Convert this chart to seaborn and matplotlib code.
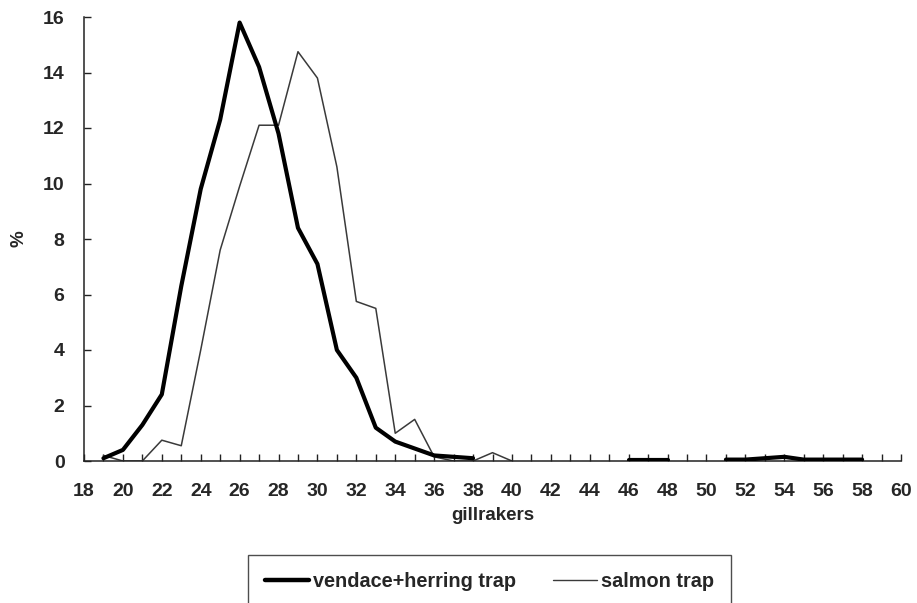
import numpy as np
import pandas as pd
import matplotlib
matplotlib.use("Agg")
import matplotlib.pyplot as plt
import seaborn as sns
from matplotlib.lines import Line2D

# ---- data ----
vendace_x = [19, 20, 21, 22, 23, 24, 25, 26, 27, 28, 29, 30, 31, 32, 33, 34, 35, 36, 37, 38,
             46, 47, 48,
             51, 52, 53, 54, 55, 56, 57, 58]
vendace_y = [0.1, 0.4, 1.3, 2.4, 6.3, 9.8, 12.3, 15.8, 14.2, 11.8, 8.4, 7.1, 4.0, 3.0, 1.2, 0.7, 0.45, 0.2, 0.15, 0.1,
             0.05, 0.05, 0.05,
             0.05, 0.05, 0.1, 0.15, 0.05, 0.05, 0.05, 0.05]
vendace_seg = [0] * 20 + [1] * 3 + [2] * 8

salmon_x = [19, 20, 21, 22, 23, 24, 25, 26, 27, 28, 29, 30, 31, 32, 33, 34, 35, 36, 37, 38, 39, 40]
salmon_y = [0.2, 0.0, 0.0, 0.75, 0.55, 4.0, 7.6, 9.9, 12.1, 12.1, 14.75, 13.8, 10.6, 5.75, 5.5, 1.0, 1.5, 0.15, 0.0, 0.0, 0.3, 0.0]
salmon_seg = [0] * len(salmon_x)

x_ticklabels = list(range(18, 61, 2))
y_ticklabels = list(range(0, 17, 2))

df_v = pd.DataFrame({"gillrakers": vendace_x, "pct": vendace_y, "seg": vendace_seg})
df_s = pd.DataFrame({"gillrakers": salmon_x, "pct": salmon_y, "seg": salmon_seg})

sns.set_theme(style="white")
plt.rcParams["font.family"] = ["Liberation Sans", "DejaVu Sans"]
plt.rcParams["font.weight"] = "bold"

fig = plt.figure(figsize=(9.17, 6.03), dpi=100)
ax = fig.add_axes([84 / 917, 1 - 461 / 603, (901 - 84) / 917, (461 - 17) / 603])

sns.lineplot(data=df_s, x="gillrakers", y="pct", units="seg", estimator=None,
             color="#3a3a3a", linewidth=1.1, ax=ax, zorder=2)
sns.lineplot(data=df_v, x="gillrakers", y="pct", units="seg", estimator=None,
             color="black", linewidth=3.0, ax=ax, zorder=3)

ax.set_xlim(18, 60)
ax.set_ylim(0, 16)
ax.set_xticks(x_ticklabels)
ax.set_xticklabels([str(v) for v in x_ticklabels])
ax.set_xticks(np.arange(18, 61, 1), minor=True)
ax.set_yticks(y_ticklabels)
ax.set_yticklabels([str(v) for v in y_ticklabels])

for s in ["top", "right"]:
    ax.spines[s].set_visible(False)
for s in ["left", "bottom"]:
    ax.spines[s].set_color("#222222")
    ax.spines[s].set_linewidth(1.1)

ax.tick_params(axis="x", which="both", direction="in", length=5, width=1, color="#222222",
               labelsize=14, pad=16, bottom=True)
ax.tick_params(axis="y", which="major", direction="in", length=5, width=1, color="#222222",
               labelsize=14, pad=14, left=True)
for lab in ax.get_xticklabels() + ax.get_yticklabels():
    lab.set_fontweight("bold")

ax.set_xlabel("gillrakers", fontsize=13.5, fontweight="bold", labelpad=5)
ax.set_ylabel("%", fontsize=13.5, fontweight="bold", labelpad=11)
ax.grid(False)

handles = [Line2D([], [], color="black", linewidth=3.2),
           Line2D([], [], color="#3a3a3a", linewidth=1.0)]
leg = fig.legend(handles, ["vendace+herring trap", "salmon trap"],
                 loc="upper left", bbox_to_anchor=(248 / 917, 1 - 555 / 603),
                 ncol=2, frameon=True, fancybox=False, shadow=False,
                 prop={"size": 14.3, "weight": "bold"},
                 handlelength=2.2, handletextpad=0.2, columnspacing=1.9,
                 borderpad=0.85, borderaxespad=0)
leg.get_frame().set_edgecolor("#222222")
leg.get_frame().set_linewidth(1.0)

fig.savefig("out.png", dpi=100)
